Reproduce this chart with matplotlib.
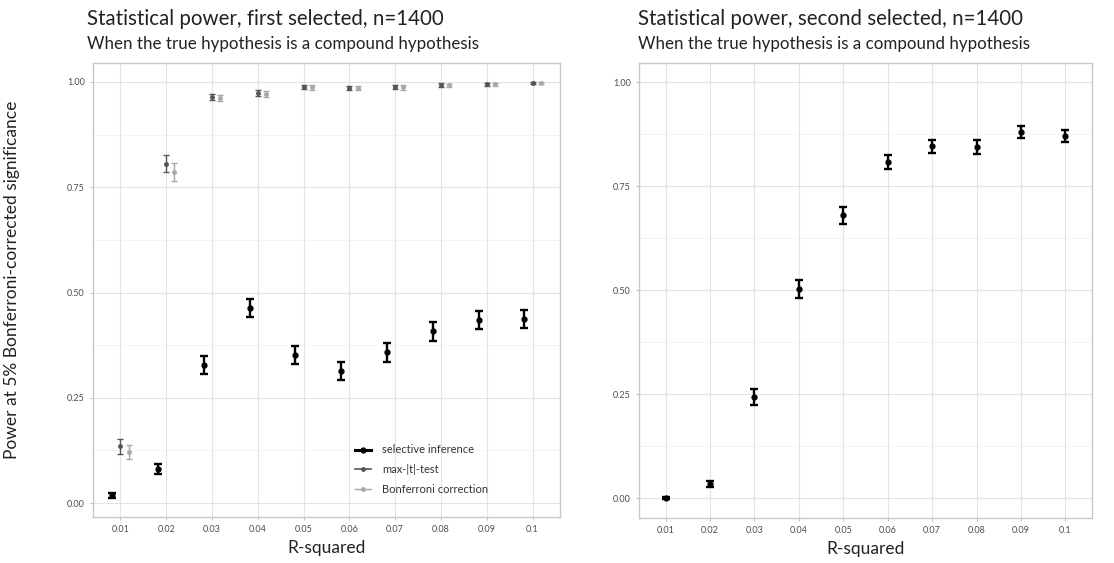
import numpy as np
import matplotlib
matplotlib.use("Agg")
import matplotlib.pyplot as plt
from matplotlib.lines import Line2D

plt.rcParams["font.family"] = ["Lato", "DejaVu Sans"]

rsq_labels = ["0.01", "0.02", "0.03", "0.04", "0.05", "0.06", "0.07", "0.08", "0.09", "0.1"]

# first selected variable
sel_first = [0.019, 0.081, 0.328, 0.463, 0.352, 0.313, 0.358, 0.408, 0.435, 0.437]
sel_first_err = [0.006, 0.013, 0.021, 0.022, 0.021, 0.021, 0.022, 0.022, 0.022, 0.022]
maxt_first = [0.135, 0.806, 0.964, 0.974, 0.988, 0.986, 0.988, 0.993, 0.994, 0.997]
maxt_first_err = [0.018, 0.020, 0.008, 0.007, 0.005, 0.005, 0.005, 0.004, 0.003, 0.002]
bonf_first = [0.121, 0.786, 0.962, 0.972, 0.987, 0.985, 0.987, 0.992, 0.994, 0.997]
bonf_first_err = [0.017, 0.021, 0.008, 0.007, 0.005, 0.005, 0.005, 0.004, 0.003, 0.002]

# second selected variable
sel_second = [0.000, 0.034, 0.243, 0.502, 0.680, 0.808, 0.846, 0.844, 0.880, 0.870]
sel_second_err = [0.002, 0.008, 0.019, 0.022, 0.020, 0.017, 0.016, 0.016, 0.014, 0.015]

series_names = ["selective inference", "max-|t|-test", "Bonferroni correction"]
series_colors = ["#000000", "#555555", "#a8a8a8"]

W, H = 1114, 563
fig = plt.figure(figsize=(W / 100, H / 100), dpi=100)


def px_axes(x0, y0, x1, y1):
    return fig.add_axes([x0 / W, (H - y1) / H, (x1 - x0) / W, (y1 - y0) / H])


def style_panel(ax, ylim):
    ax.set_xlim(-0.6, 9.6)
    ax.set_ylim(*ylim)
    ax.set_xticks(np.arange(len(rsq_labels)))
    ax.set_xticklabels(rsq_labels)
    ax.set_yticks([0, 0.25, 0.5, 0.75, 1.0])
    ax.set_yticklabels(["0.00", "0.25", "0.50", "0.75", "1.00"])
    ax.set_yticks([0.125, 0.375, 0.625, 0.875], minor=True)
    ax.tick_params(which="major", length=2.5, width=0.6, color="#b3b3b3",
                   labelsize=6.5, labelcolor="#4d4d4d", pad=3.5)
    ax.tick_params(which="minor", length=0)
    ax.grid(which="major", color="#e3e3e3", lw=0.8)
    ax.grid(which="minor", axis="y", color="#f0f0f0", lw=0.5)
    ax.set_axisbelow(True)
    for s in ax.spines.values():
        s.set_color("#c8c8c8")
        s.set_linewidth(1.0)
    ax.set_xlabel("R-squared", fontsize=12.5, color="#222222", labelpad=4)


x = np.arange(len(rsq_labels))
dodge = 0.18

# left panel
ax1 = px_axes(93, 63, 560, 517)
style_panel(ax1, (-0.033, 1.045))
ax1.errorbar(x + dodge, bonf_first, yerr=bonf_first_err, fmt="o", ms=2.5,
             color=series_colors[2], ecolor=series_colors[2], elinewidth=1.0, capsize=2.2, capthick=1.0)
ax1.errorbar(x, maxt_first, yerr=maxt_first_err, fmt="o", ms=2.5,
             color=series_colors[1], ecolor=series_colors[1], elinewidth=1.0, capsize=2.2, capthick=1.0)
ax1.errorbar(x - dodge, sel_first, yerr=sel_first_err, fmt="o", ms=3.5,
             color=series_colors[0], ecolor=series_colors[0], elinewidth=1.7, capsize=2.8, capthick=1.7)
ax1.set_ylabel("Power at 5% Bonferroni-corrected significance", fontsize=12.5,
               color="#222222")
ax1.yaxis.set_label_coords(-0.156, 0.522)

handles = [Line2D([0], [0], color=c, lw=lw, marker="o", ms=ms)
           for c, lw, ms in zip(series_colors, [2.2, 1.2, 1.0], [3.5, 2.5, 2.5])]
ax1.legend(handles, series_names, loc="lower left", bbox_to_anchor=(0.54, 0.027),
           frameon=False, fontsize=8.0, handlelength=1.4, labelspacing=0.78,
           handletextpad=1.0, labelcolor="#333333")

fig.text(87 / W, 1 - 19 / H, "Statistical power, first selected, n=1400", fontsize=14.8,
         color="#222222", va="center", ha="left")
fig.text(87 / W, 1 - 44 / H, "When the true hypothesis is a compound hypothesis", fontsize=12.2,
         color="#222222", va="center", ha="left")

# right panel
ax2 = px_axes(639, 63, 1092, 518)
style_panel(ax2, (-0.048, 1.046))
ax2.errorbar(x, sel_second, yerr=sel_second_err, fmt="o", ms=3.5,
             color=series_colors[0], ecolor=series_colors[0], elinewidth=1.7, capsize=2.8, capthick=1.7)

fig.text(638 / W, 1 - 19 / H, "Statistical power, second selected, n=1400", fontsize=14.8,
         color="#222222", va="center", ha="left")
fig.text(638 / W, 1 - 44 / H, "When the true hypothesis is a compound hypothesis", fontsize=12.2,
         color="#222222", va="center", ha="left")

fig.savefig("out.png", dpi=100, facecolor="white")
